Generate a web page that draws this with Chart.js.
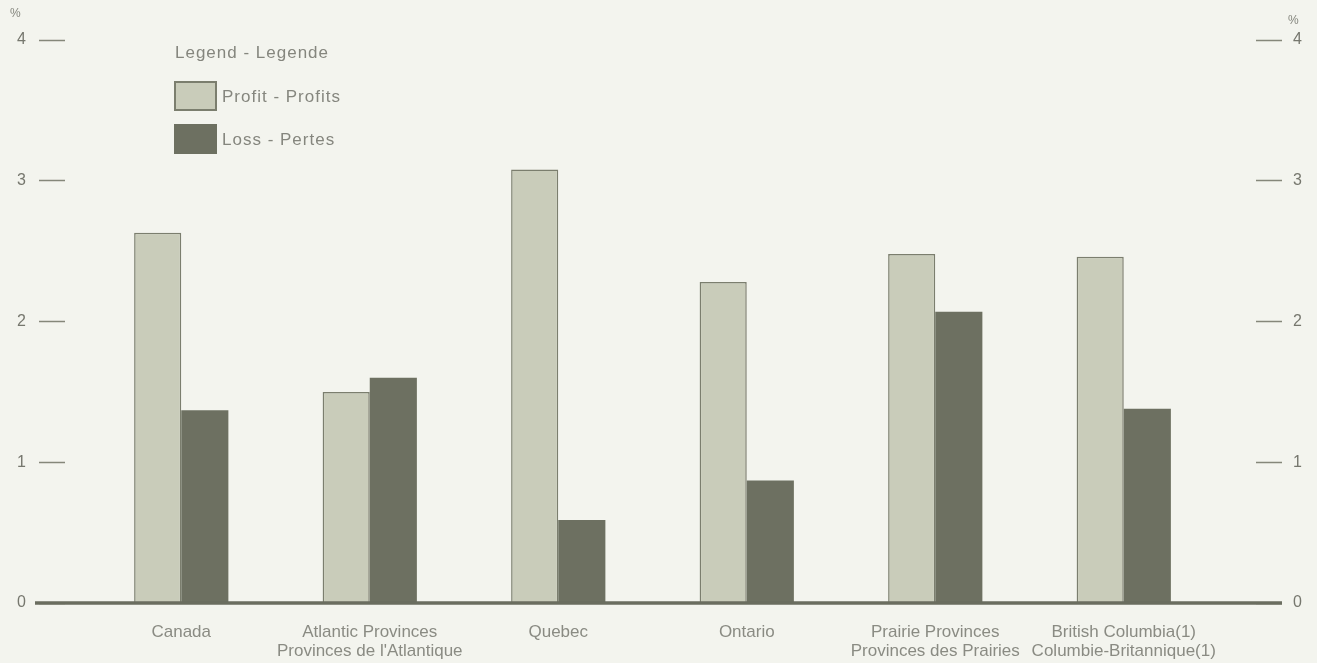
<!DOCTYPE html>
<html><head><meta charset="utf-8">
<script src="https://cdn.jsdelivr.net/npm/chart.js@4"></script>
<style>
html,body{margin:0;padding:0;background:#f3f4ee;overflow:hidden}
#wrap{position:relative;width:1317px;height:663px}
canvas{position:absolute;left:0;top:0}
.t{position:absolute;font-family:"Liberation Sans",Arial,sans-serif;color:#85867e;white-space:nowrap;letter-spacing:1px;line-height:20px}
.box{position:absolute;box-sizing:border-box}
</style></head><body>
<div id="wrap"><canvas id="c" width="1317" height="663"></canvas>
<div id="legend"></div>
<div class="t" style="left:10px;top:3px;font-size:12px">%</div>
<div class="t" style="left:1288px;top:10px;font-size:12px">%</div>
</div>
<script>
const categories = [
  ["Canada"],
  ["Atlantic Provinces", "Provinces de l'Atlantique"],
  ["Quebec"],
  ["Ontario"],
  ["Prairie Provinces", "Provinces des Prairies"],
  ["British Columbia(1)", "Columbie-Britannique(1)"]
];
const profitLabel = "Profit - Profits";
const lossLabel = "Loss - Pertes";
const legendTitle = "Legend - Legende";
const profit = [2.63, 1.50, 3.08, 2.28, 2.48, 2.46];
const loss   = [1.37, 1.60, 0.59, 0.87, 2.07, 1.38];
const yMin = 0, yMax = 4, yStep = 1;

const FONT = '"Liberation Sans", Arial, sans-serif';
const profitFill = '#c9ccba', profitBorder = '#7b7e6e', lossFill = '#6d7061';

const baseline = {
  id: 'baseline',
  afterDatasetsDraw(chart){
    const ctx = chart.ctx, y = chart.scales.y.getPixelForValue(0);
    ctx.save();
    ctx.strokeStyle = '#6a6d5f';
    ctx.lineWidth = 3.5;
    ctx.beginPath();
    ctx.moveTo(35, y);
    ctx.lineTo(1282, y);
    ctx.stroke();
    ctx.restore();
  }
};

const chart = new Chart(document.getElementById('c'), {
  type: 'bar',
  data: {
    labels: categories,
    datasets: [
      {label: profitLabel, data: profit, backgroundColor: profitFill, borderColor: profitBorder, borderWidth: 1.5, categoryPercentage: 0.5, barPercentage: 1.0, yAxisID: 'y'},
      {label: lossLabel, data: loss, backgroundColor: lossFill, borderWidth: 0, categoryPercentage: 0.5, barPercentage: 1.0, yAxisID: 'y'}
    ]
  },
  options: {
    responsive: false,
    animation: false,
    layout: {padding: {top: 40, left: 0, right: 0, bottom: 0}},
    plugins: {legend: {display: false}, tooltip: {enabled: false}},
    scales: {
      x: {
        ticks: {color: '#8a8b83', font: {family: FONT, size: 17, lineHeight: 1.12}, padding: 20, maxRotation: 0, autoSkip: false},
        grid: {display: false, drawTicks: false},
        border: {display: false},
        afterFit(s){ s.height = 60; s.paddingLeft = 0; s.paddingRight = 0; }
      },
      y: {
        position: 'left', min: yMin, max: yMax,
        ticks: {stepSize: yStep, padding: 13, color: '#76776e', font: {family: FONT, size: 16}},
        grid: {drawOnChartArea: false, tickLength: 48, tickBorderDash: [26, 200], tickBorderDashOffset: 0, tickColor: '#85877a', tickWidth: 1.5},
        border: {display: false},
        afterFit(s){ s.width = 87; s.paddingTop = 0; s.paddingBottom = 0; }
      },
      y2: {
        position: 'right', min: yMin, max: yMax,
        ticks: {stepSize: yStep, padding: 11, color: '#76776e', font: {family: FONT, size: 16}},
        grid: {drawOnChartArea: false, tickLength: 64, tickBorderDash: [0, 38, 26, 100], tickBorderDashOffset: 0, tickColor: '#85877a', tickWidth: 1.5},
        border: {display: false},
        afterFit(s){ s.width = 99; s.paddingTop = 0; s.paddingBottom = 0; }
      }
    }
  },
  plugins: [baseline]
});

// HTML legend built from the chart datasets
const lg = document.getElementById('legend');
const title = document.createElement('div');
title.className = 't';
title.style.cssText = 'left:175px;top:43px;font-size:17px';
title.textContent = legendTitle;
lg.appendChild(title);
chart.data.datasets.forEach((ds, i) => {
  const top = 81 + i * 43;
  const b = document.createElement('div');
  b.className = 'box';
  b.style.cssText = `left:174px;top:${top}px;width:43px;height:30px;background:${ds.backgroundColor};` +
    (ds.borderWidth ? `border:2px solid ${ds.borderColor};` : '');
  lg.appendChild(b);
  const t = document.createElement('div');
  t.className = 't';
  t.style.cssText = `left:222px;top:${top + 6}px;font-size:17px`;
  t.textContent = ds.label;
  lg.appendChild(t);
});
</script>
</body></html>
